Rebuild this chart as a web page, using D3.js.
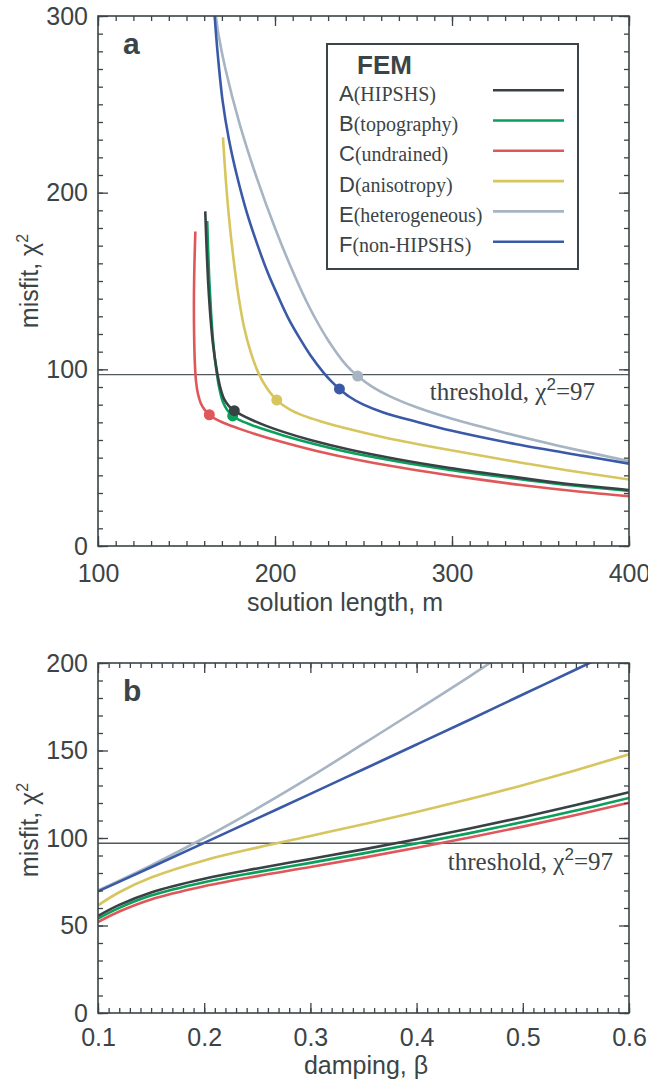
<!DOCTYPE html>
<html>
<head>
<meta charset="utf-8">
<script src="https://cdn.jsdelivr.net/npm/d3@7"></script>
<style>
body { margin: 0; background: #fff; }
</style>
</head>
<body>
<script>
// model labels
var models = ["A", "B", "C", "D", "E", "F"];
var modelNames = ["(HIPSHS)", "(topography)", "(undrained)", "(anisotropy)", "(heterogeneous)", "(non-HIPSHS)"];

var threshold = 97;

// panel a: misfit vs solution length (L-curves), [length, misfit]
var lcurveA = [[160.6,189.4],[161.3,170],[162.3,148],[163.5,130],[165,114],[167,100],[169,90],[171.2,83.3],[174,79.2],[177,76.6],[181,74.2],[187,71.3],[195,68],[204.7,64.6],[220,60],[242.4,54.5],[270,49],[298.9,44.2],[330,39.8],[360,35.8],[400,31.7]];
var lcurveB = [[161.7,184],[162.2,168],[163,148],[164,130],[165.2,114],[166.8,100],[168.5,89.5],[170.6,81.5],[173,77],[176.1,73.6],[180,71.2],[187,68.4],[195,65.6],[204.7,62.6],[220,58.3],[242.4,52.9],[270,47.7],[298.9,43.1],[330,38.9],[360,35.1],[400,31.2]];
var lcurveC = [[155,178],[154.5,160],[154.2,140],[154.3,120],[154.7,104],[155.4,93],[156.5,86],[158,81],[160.2,77.2],[162.9,74.3],[166.5,71.8],[172,69.3],[180,66.3],[190,63],[200,60],[223.5,53.8],[250,48.1],[280,42.9],[310,38.4],[340,34.4],[370,31],[400,28.2]];
var lcurveD = [[170.6,231.3],[172,210],[174,186],[176.5,163],[179.3,142],[182.5,124],[186.5,109],[190.6,98],[195,90],[201,82.6],[208,77.5],[216,73.8],[226,70.5],[240,66.6],[261.2,61.6],[290,55.9],[317.7,50.9],[340,47],[364.8,42.9],[400,37.6]];
var lcurveE = [[166.6,300],[168,290],[172,270],[180,239],[190,207.5],[200,180],[210,155.5],[220,134],[230,116.5],[240,102.7],[246.7,96.2],[255,90.1],[265,84.7],[280,78.5],[300,72],[330,64],[360,56.8],[400,48]];
var lcurveF = [[165.9,300],[167.5,280],[170.4,252],[174,230],[178.4,210],[184,189],[190.6,169],[196,154.5],[201.9,141],[208,128],[214,117.5],[220,108],[227.3,98.3],[232,93],[236.4,88.9],[242,84.5],[250,80],[261.2,75.6],[280,70.3],[300,65.2],[336.5,57.6],[374.2,51],[400,46.6]];

// chosen (knee) points on each L-curve
var kneeLength = [177, 176.1, 162.9, 201, 246.7, 236.4];
var kneeMisfit = [76.6, 73.6, 74.3, 82.6, 96.2, 88.9];

// panel b: misfit vs damping, [beta, misfit]
var dampA = [[0.1,55.5],[0.12,61.8],[0.15,68.9],[0.2,76.7],[0.25,82.6],[0.3,88],[0.35,93.5],[0.4,99.3],[0.45,105.4],[0.5,111.9],[0.55,118.8],[0.6,126.2]];
var dampB = [[0.1,54],[0.12,60.1],[0.15,67.1],[0.2,74.7],[0.25,80.5],[0.3,85.8],[0.35,91.2],[0.4,96.9],[0.45,102.8],[0.5,109.1],[0.55,115.7],[0.6,122.9]];
var dampC = [[0.1,52],[0.12,58],[0.15,64.9],[0.2,72.4],[0.25,78.2],[0.3,83.4],[0.35,88.8],[0.4,94.4],[0.45,100.3],[0.5,106.5],[0.55,113.1],[0.6,120.2]];
var dampD = [[0.1,61.5],[0.12,69],[0.15,77.4],[0.2,87.2],[0.25,94.5],[0.3,101.2],[0.35,107.9],[0.4,114.9],[0.45,122.3],[0.5,130.2],[0.55,138.7],[0.6,147.8]];
var dampE = [[0.1,70],[0.15,84.4],[0.2,100],[0.25,116.9],[0.3,134.9],[0.35,153.9],[0.4,173],[0.45,192.4],[0.5,212.6]];
var dampF = [[0.1,69.5],[0.15,83.3],[0.2,97.2],[0.25,111.2],[0.3,125.2],[0.35,139.3],[0.4,153.4],[0.45,167.6],[0.5,182],[0.55,196.3],[0.6,210.8]];

// tick labels
var lengthTicks = [100, 200, 300, 400];
var misfitTicksA = [0, 100, 200, 300];
var dampTicks = [0.1, 0.2, 0.3, 0.4, 0.5, 0.6];
var misfitTicksB = [0, 50, 100, 150, 200];

// styles
var colors = ["#384245", "#0aa05c", "#e0575a", "#d7c55e", "#a6b4c3", "#3a5aa8"];
var drawOrder = [4, 5, 3, 2, 1, 0];
var axisCol = "#3b4447";
var sans = "'Liberation Sans', Arial, Helvetica, sans-serif";
var serif = "'Liberation Serif', 'Times New Roman', serif";

var svg = d3.select("body")
    .append("svg")
    .attr("width", 648)
    .attr("height", 1079);

function drawPanel(p) {
    var x = d3.scaleLinear().domain(p.xDomain).range([p.left, p.right]);
    var y = d3.scaleLinear().domain(p.yDomain).range([p.bottom, p.top]);
    var g = svg.append("g");

    var clipId = "clip-" + p.letter;
    svg.append("clipPath").attr("id", clipId)
        .append("rect")
        .attr("x", p.left).attr("y", p.top)
        .attr("width", p.right - p.left).attr("height", p.bottom - p.top);

    // threshold line
    g.append("line")
        .attr("x1", p.left).attr("x2", p.right)
        .attr("y1", y(threshold)).attr("y2", y(threshold))
        .attr("stroke", "#50585b")
        .attr("stroke-width", 1.3);

    var line = d3.line()
        .x(function (d) { return x(d[0]); })
        .y(function (d) { return y(d[1]); })
        .curve(d3.curveCatmullRom.alpha(0.5));

    var cg = g.append("g").attr("clip-path", "url(#" + clipId + ")");
    drawOrder.forEach(function (i) {
        cg.append("path")
            .datum(p.curves[i])
            .attr("d", line)
            .attr("fill", "none")
            .attr("stroke", colors[i])
            .attr("stroke-width", 2.6);
    });

    if (p.knees) {
        drawOrder.forEach(function (i) {
            g.append("circle")
                .attr("cx", x(p.knees[0][i]))
                .attr("cy", y(p.knees[1][i]))
                .attr("r", 5.5)
                .attr("fill", colors[i]);
        });
    }

    // inward ticks on all four sides
    function tickSet(vals, len) {
        var sides = [
            [d3.axisBottom(x), "translate(0," + p.bottom + ")", vals[0]],
            [d3.axisTop(x), "translate(0," + p.top + ")", vals[0]],
            [d3.axisLeft(y), "translate(" + p.left + ",0)", vals[1]],
            [d3.axisRight(y), "translate(" + p.right + ",0)", vals[1]]
        ];
        sides.forEach(function (s) {
            g.append("g")
                .attr("transform", s[1])
                .attr("color", axisCol)
                .call(s[0].tickValues(s[2]).tickSize(-len).tickFormat(""))
                .call(function (a) { a.select(".domain").remove(); })
                .selectAll("line").attr("stroke-width", 1.3);
        });
    }
    tickSet([p.xMinor, p.yMinor], 5);
    tickSet([p.xTicks, p.yTicks], 10);

    // frame
    g.append("rect")
        .attr("x", p.left).attr("y", p.top)
        .attr("width", p.right - p.left).attr("height", p.bottom - p.top)
        .attr("fill", "none")
        .attr("stroke", axisCol)
        .attr("stroke-width", 1.6);

    // tick labels
    g.append("g")
        .attr("transform", "translate(0," + p.bottom + ")")
        .call(d3.axisBottom(x).tickValues(p.xTicks).tickSize(0).tickPadding(p.xPad).tickFormat(p.xFormat))
        .call(function (a) { a.select(".domain").remove(); })
        .attr("font-size", 25)
        .attr("font-family", sans)
        .selectAll("text").attr("fill", axisCol);

    g.append("g")
        .attr("transform", "translate(" + p.left + ",0)")
        .call(d3.axisLeft(y).tickValues(p.yTicks).tickSize(0).tickPadding(10).tickFormat(d3.format("d")))
        .call(function (a) { a.select(".domain").remove(); })
        .attr("font-size", 25)
        .attr("font-family", sans)
        .selectAll("text").attr("fill", axisCol);

    // axis titles
    g.append("text")
        .text(p.xTitle)
        .attr("x", p.xTitleX)
        .attr("y", p.xTitleY)
        .attr("text-anchor", "middle")
        .attr("font-family", sans)
        .attr("font-size", 25)
        .attr("fill", axisCol);

    var yt = g.append("text")
        .attr("transform", "translate(" + p.yTitleX + "," + p.yTitleY + ") rotate(-90)")
        .attr("text-anchor", "middle")
        .attr("font-family", sans)
        .attr("font-size", 25)
        .attr("fill", axisCol);
    yt.append("tspan").text("misfit, χ");
    yt.append("tspan").text("2").attr("font-size", 16).attr("dy", -10);

    // threshold label
    var tt = g.append("text")
        .attr("x", p.threshX)
        .attr("y", p.threshY)
        .attr("text-anchor", "end")
        .attr("font-family", serif)
        .attr("font-size", 25)
        .attr("fill", axisCol);
    tt.append("tspan").text("threshold, χ");
    tt.append("tspan").text("2").attr("font-family", sans).attr("font-size", 17).attr("dy", -10);
    tt.append("tspan").text("=97").attr("dy", 10);

    // panel letter
    g.append("text")
        .text(p.letter)
        .attr("x", p.left + 25)
        .attr("y", p.letterY)
        .attr("font-family", sans)
        .attr("font-weight", "bold")
        .attr("font-size", 30)
        .attr("fill", axisCol);
}

drawPanel({
    letter: "a", letterY: 54,
    left: 98, right: 629, top: 16, bottom: 546,
    xDomain: [100, 400], yDomain: [0, 300],
    curves: [lcurveA, lcurveB, lcurveC, lcurveD, lcurveE, lcurveF],
    knees: [kneeLength, kneeMisfit],
    xTicks: lengthTicks, yTicks: misfitTicksA,
    xMinor: d3.range(100, 401, 10), yMinor: d3.range(0, 301, 10),
    xFormat: d3.format("d"), xPad: 18,
    xTitle: "solution length, m", xTitleX: 345, xTitleY: 611,
    yTitleX: 38, yTitleY: 281,
    threshX: 595, threshY: 400
});

drawPanel({
    letter: "b", letterY: 701,
    left: 98, right: 629, top: 663, bottom: 1013,
    xDomain: [0.1, 0.6], yDomain: [0, 200],
    curves: [dampA, dampB, dampC, dampD, dampE, dampF],
    knees: null,
    xTicks: dampTicks, yTicks: misfitTicksB,
    xMinor: d3.range(10, 61).map(function (v) { return v / 100; }), yMinor: d3.range(0, 201, 10),
    xFormat: d3.format(".1f"), xPad: 15,
    xTitle: "damping, β", xTitleX: 366, xTitleY: 1074,
    yTitleX: 38, yTitleY: 830,
    threshX: 613, threshY: 870
});

// legend
var legend = svg.append("g");
legend.append("rect")
    .attr("x", 327).attr("y", 44)
    .attr("width", 251).attr("height", 225)
    .attr("fill", "#fff")
    .attr("stroke", axisCol)
    .attr("stroke-width", 2);

legend.append("text")
    .text("FEM")
    .attr("x", 357).attr("y", 74)
    .attr("font-family", sans)
    .attr("font-weight", "bold")
    .attr("font-size", 26)
    .attr("fill", axisCol);

models.forEach(function (m, i) {
    var by = 100.7 + i * 30.3;
    var t = legend.append("text")
        .attr("x", 339).attr("y", by)
        .attr("fill", axisCol);
    t.append("tspan").text(m).attr("font-family", sans).attr("font-size", 22);
    t.append("tspan").text(modelNames[i]).attr("font-family", serif).attr("font-size", 20);

    legend.append("line")
        .attr("x1", 493).attr("x2", 564)
        .attr("y1", by - 10.5).attr("y2", by - 10.5)
        .attr("stroke", colors[i])
        .attr("stroke-width", 2.6);
});
</script>
</body>
</html>
